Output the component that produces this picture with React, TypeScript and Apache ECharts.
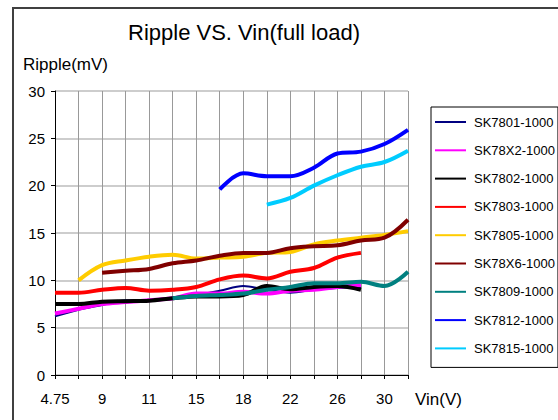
import React, { useEffect, useRef } from "react";
import * as echarts from "echarts";

const categories = ["4.75", "7", "9", "10", "11", "13", "15", "16", "18", "20", "22", "24", "26", "28", "30", "32"];

const seriesNames = [
  "SK7801-1000",
  "SK78X2-1000",
  "SK7802-1000",
  "SK7803-1000",
  "SK7805-1000",
  "SK78X6-1000",
  "SK7809-1000",
  "SK7812-1000",
  "SK7815-1000",
];

const sk7801 = [6.2, 6.9, 7.4, 7.9, 7.85, 8.1, 8.45, 8.9, 9.4, 9.0, 8.7, 9.0, 9.2, 9.3, null, null];
const sk78x2 = [6.5, 7.0, 7.5, 7.7, 7.9, 8.1, 8.6, 8.6, 8.8, 8.6, 8.9, 9.0, 9.3, 9.5, null, null];
const sk7802 = [7.5, 7.5, 7.75, 7.8, 7.85, 8.1, 8.3, 8.3, 8.45, 9.4, 9.05, 9.3, 9.4, 9.0, null, null];
const sk7803 = [8.7, 8.7, 9.0, 9.2, 8.9, 9.0, 9.3, 10.1, 10.5, 10.2, 10.9, 11.3, 12.4, 12.9, null, null];
const sk7805 = [null, 10.0, 11.6, 12.1, 12.5, 12.7, 12.3, 12.4, 12.5, 12.9, 13.0, 13.8, 14.2, 14.5, 14.8, 15.2];
const sk78x6 = [null, null, 10.8, 11.0, 11.2, 11.8, 12.1, 12.6, 12.9, 12.9, 13.4, 13.6, 13.7, 14.2, 14.5, 16.4];
const sk7809 = [null, null, null, null, null, 8.1, 8.35, 8.45, 8.6, 9.0, 9.3, 9.7, 9.7, 9.85, 9.4, 10.9];
const sk7812 = [null, null, null, null, null, null, null, 19.6, 21.3, 21.0, 21.0, 21.9, 23.4, 23.6, 24.4, 25.9];
const sk7815 = [null, null, null, null, null, null, null, null, null, 18.0, 18.7, 20.0, 21.1, 22.0, 22.5, 23.7];

const seriesData = [sk7801, sk78x2, sk7802, sk7803, sk7805, sk78x6, sk7809, sk7812, sk7815];
const seriesColors = ["#000080", "#ff00ff", "#000000", "#ff0000", "#ffcc00", "#800000", "#008080", "#0000ff", "#00ccff"];
const seriesWidths = [2, 4, 4, 4, 4, 4, 4, 4, 4];

const FONT = "'Liberation Sans', Arial, sans-serif";

export default function App() {
  const ref = useRef<HTMLDivElement>(null);

  useEffect(() => {
    if (!ref.current) return;
    const chart = echarts.init(ref.current, undefined, { renderer: "svg" });
    chart.setOption({
      animation: false,
      backgroundColor: "#ffffff",
      textStyle: { fontFamily: FONT },
      grid: { left: 55, top: 91, right: 150, bottom: 45, containLabel: false },
      graphic: [
        {
          type: "rect",
          shape: { x: 13, y: 8, width: 700, height: 600 },
          style: { fill: "none", stroke: "#404040", lineWidth: 2 },
          silent: true,
        },
        {
          type: "text",
          x: 244,
          y: 32,
          style: {
            text: "Ripple VS. Vin(full load)",
            fill: "#000",
            fontSize: 22,
            fontFamily: FONT,
            textAlign: "center",
            textVerticalAlign: "middle",
          },
        },
        {
          type: "text",
          x: 23,
          y: 64,
          style: {
            text: "Ripple(mV)",
            fill: "#000",
            fontSize: 17,
            fontFamily: FONT,
            textAlign: "left",
            textVerticalAlign: "middle",
          },
        },
        {
          type: "text",
          x: 415,
          y: 399,
          style: {
            text: "Vin(V)",
            fill: "#000",
            fontSize: 17,
            fontFamily: FONT,
            textAlign: "left",
            textVerticalAlign: "middle",
          },
        },
      ],
      legend: {
        orient: "vertical",
        left: 431,
        top: 107,
        itemWidth: 31,
        itemHeight: 14,
        itemGap: 14.3,
        padding: [8, 3, 12, 3],
        borderColor: "#000",
        borderWidth: 1,
        backgroundColor: "#fff",
        data: seriesNames,
        itemStyle: { opacity: 0 },
        textStyle: { fontSize: 13, color: "#000", fontFamily: FONT, lineHeight: 14, padding: [0, 0, 0, 3] },
      },
      xAxis: {
        type: "category",
        boundaryGap: false,
        data: categories,
        axisLine: { show: true, lineStyle: { color: "#000", width: 1 } },
        axisTick: { show: true, interval: 0, length: 4, lineStyle: { color: "#000" } },
        axisLabel: { interval: 1, fontSize: 15, color: "#000", margin: 16, fontFamily: FONT },
        splitLine: { show: true, interval: 0, lineStyle: { color: "#999", width: 1 } },
      },
      yAxis: {
        type: "value",
        min: 0,
        max: 30,
        interval: 5,
        axisLine: { show: true, lineStyle: { color: "#000", width: 1 } },
        axisTick: { show: true, length: 4, lineStyle: { color: "#000" } },
        axisLabel: { fontSize: 15, color: "#000", margin: 10, fontFamily: FONT },
        splitLine: { show: true, lineStyle: { color: "#bdbdbd", width: 1.5 } },
      },
      series: seriesNames.map((name, i) => ({
        name,
        type: "line",
        data: seriesData[i],
        smooth: 0.35,
        symbol: "none",
        showSymbol: false,
        connectNulls: false,
        lineStyle: { width: seriesWidths[i], color: seriesColors[i] },
        itemStyle: { color: seriesColors[i] },
        emphasis: { disabled: true },
      })),
    });
    return () => chart.dispose();
  }, []);

  return <div ref={ref} style={{ position: "absolute", left: 0, top: 0, width: 558, height: 420 }} />;
}
